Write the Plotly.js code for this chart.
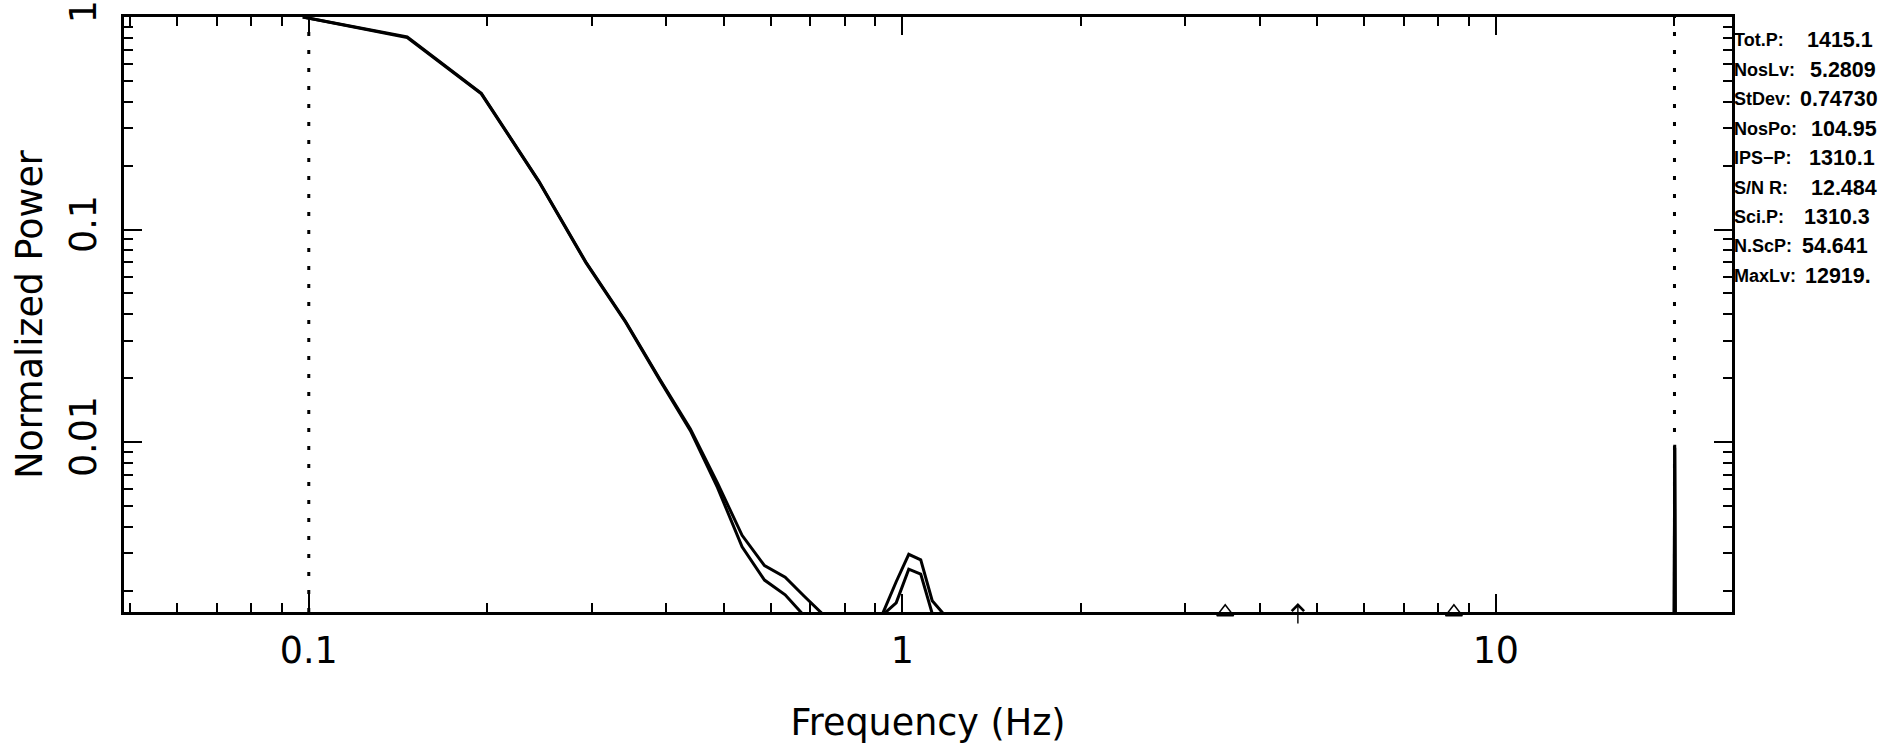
<!DOCTYPE html>
<html>
<head>
<meta charset="utf-8">
<script src="https://cdn.plot.ly/plotly-3.0.1.min.js"></script>
<style>
  html, body { margin: 0; padding: 0; background: #ffffff; }
  #chart { width: 1883px; height: 744px; }
</style>
</head>
<body>
<div id="chart"></div>
<script>
// ---- data ----
const frequencies = [0.0977, 0.1465, 0.1953, 0.2441, 0.2930, 0.3418, 0.3906, 0.4395, 0.4883,
  0.5371, 0.5859, 0.6348, 0.6836, 0.7324, 0.7813, 0.8301, 0.8789, 0.9277, 0.9766, 1.0254,
  1.0742, 1.1230, 1.1719, 1.2207, 19.9707, 20.0195, 20.0684, 24.9512];
const powerUpper = [1.0, 0.806, 0.438, 0.169, 0.0703, 0.0369, 0.0197, 0.0115, 0.0064,
  0.00364, 0.00262, 0.00231, 0.00188, 0.00156, 0.0012, 0.0012, 0.0012, 0.00157, 0.0022, 0.00296,
  0.00279, 0.00179, 0.00156, 0.0012, 0.0012, 0.0097, 0.0012, 0.0012];
const powerLower = [1.0, 0.80, 0.435, 0.168, 0.0698, 0.0366, 0.0195, 0.0113, 0.0061,
  0.00321, 0.00224, 0.00191, 0.00152, 0.0012, 0.0012, 0.0012, 0.0012, 0.00154, 0.00175, 0.00252,
  0.00239, 0.00156, 0.0012, 0.0012, 0.0012, 0.0094, 0.0012, 0.0012];
const triangleFreqs = [3.5, 8.5];
const arrowFreq = 4.64;
const markerLineFreqs = [0.1, 20];
const xTickVals = [0.1, 1, 10];
const xTickText = ['0.1', '1', '10'];
const yTickVals = [0.01, 0.1, 1];
const yTickText = ['0.01', '0.1', '1'];
const statLabels = ['Tot.P:', 'NosLv:', 'StDev:', 'NosPo:', 'IPS\u2212P:', 'S/N R:', 'Sci.P:', 'N.ScP:', 'MaxLv:'];
const statValues = ['1415.1', '5.2809', '0.74730', '104.95', '1310.1', '12.484', '1310.3', '54.641', '12919.'];

// ---- layout ----
const W = 1883, H = 744;
const M = {l: 124, r: 151, t: 17, b: 132};
const plotW = W - M.l - M.r, plotH = H - M.t - M.b;
const xRange = [Math.log10(0.048828), Math.log10(25)];
const yRange = [-2.8, 0];
const yBottom = Math.pow(10, yRange[0]);

function minorLog(lo, hi) {
  const v = [];
  for (let d = Math.floor(lo); d <= Math.ceil(hi); d++) {
    for (let m = 2; m <= 9; m++) {
      const t = m * Math.pow(10, d);
      if (Math.log10(t) >= lo && Math.log10(t) <= hi) v.push(t);
    }
  }
  return v;
}

const fontMain = 'DejaVu Sans, sans-serif';
const fontLabel = 'Liberation Sans Narrow, Liberation Sans, Arial, sans-serif';
const fontValue = 'Liberation Sans, Arial, sans-serif';
const traces = [
  {x: frequencies, y: powerUpper, type: 'scatter', mode: 'lines',
   line: {color: '#000', width: 3}, hoverinfo: 'skip'},
  {x: frequencies, y: powerLower, type: 'scatter', mode: 'lines',
   line: {color: '#000', width: 3}, hoverinfo: 'skip'},
  {x: triangleFreqs, y: triangleFreqs.map(() => yBottom), type: 'scatter', mode: 'markers',
   marker: {symbol: 'triangle-up-open', size: 14.5, color: '#000', line: {width: 1.6, color: '#000'}},
   cliponaxis: false, hoverinfo: 'skip'}
];

const axisCommon = {
  type: 'log', showgrid: false, zeroline: false,
  showline: true, linecolor: '#000', linewidth: 3, mirror: 'allticks',
  ticks: 'inside', ticklen: 18, tickwidth: 2, tickcolor: '#000',
  tickfont: {family: fontMain, size: 33, color: '#000'},
  tickmode: 'array', ticklabeloverflow: 'allow'
};

const annotations = [];
const pxToPaperY = py => (H - M.b - py) / plotH;
const pxToPaperX = px => (px - M.l) / plotW;
const valueX = [1807, 1810, 1800, 1811, 1809, 1811, 1804, 1802, 1805];
statLabels.forEach((lab, i) => {
  const py = 40 + i * 29.5;
  annotations.push({xref: 'paper', yref: 'paper', x: pxToPaperX(1733), y: pxToPaperY(py),
    xanchor: 'left', yanchor: 'middle', showarrow: false, text: lab, borderpad: 0,
    font: {family: fontLabel, size: 21, color: '#000', weight: 'bold'}});
  annotations.push({xref: 'paper', yref: 'paper', x: pxToPaperX(valueX[i] - 1), y: pxToPaperY(py),
    xanchor: 'left', yanchor: 'middle', showarrow: false, text: statValues[i], borderpad: 0,
    font: {family: fontValue, size: 21, color: '#000', weight: 'bold'}});
});
// up arrow marker on the frequency axis
annotations.push({xref: 'x', yref: 'paper', x: Math.log10(arrowFreq), y: pxToPaperY(603),
  ax: 0, ay: 22, axref: 'pixel', ayref: 'pixel', showarrow: true, text: '',
  arrowhead: 4, arrowsize: 1.7, arrowwidth: 1.4, arrowcolor: '#000', standoff: 0});

const shapes = markerLineFreqs.map(f => ({
  type: 'line', xref: 'x', yref: 'paper', x0: f, x1: f, y0: 0, y1: 1,
  line: {color: '#000', width: 3, dash: '4px,14px'}, layer: 'above'
}));

const layout = {
  width: W, height: H, margin: M,
  paper_bgcolor: '#fff', plot_bgcolor: '#fff',
  showlegend: false,
  font: {family: fontMain, color: '#000'},
  xaxis: Object.assign({}, axisCommon, {
    range: xRange, tickvals: xTickVals, ticktext: xTickText,
    ticklabelstandoff: 20,
    minor: {tickmode: 'array', tickvals: minorLog(xRange[0], xRange[1]), ticks: 'inside', ticklen: 9, tickwidth: 2, tickcolor: '#000'},
    title: {text: 'Frequency (Hz)', font: {family: fontMain, size: 33, color: '#000'}, standoff: 28}
  }),
  yaxis: Object.assign({}, axisCommon, {
    range: yRange, tickvals: yTickVals, ticktext: yTickText, tickangle: -90,
    ticklabelstandoff: 20,
    minor: {tickmode: 'array', tickvals: minorLog(yRange[0], yRange[1]), ticks: 'inside', ticklen: 9, tickwidth: 2, tickcolor: '#000'},
    title: {text: 'Normalized Power', font: {family: fontMain, size: 33, color: '#000'}, standoff: 16}
  }),
  shapes: shapes,
  annotations: annotations
};

const gd = document.getElementById('chart');
const centerOf = el => { const r = el.getBoundingClientRect(); return {x: (r.left + r.right) / 2, y: (r.top + r.bottom) / 2}; };
const annText = i => gd.querySelector('.annotation[data-index="' + i + '"] .annotation-text');

Plotly.newPlot(gd, traces, layout, {staticPlot: true, displayModeBar: false})
  .then(() => {
    // fit text sizes to the measured widths of the reference text
    const upd = {};
    const titleSize = 33 * 275 / gd.querySelector('.xtitle').getBBox().width;
    upd['xaxis.title.font.size'] = titleSize;
    upd['yaxis.title.font.size'] = titleSize;
    upd['xaxis.tickfont.size'] = titleSize;
    upd['yaxis.tickfont.size'] = titleSize;
    const valueSize = 21 * 66 / annText(7).getBBox().width;   // "104.95"
    let labelSize = 21 * 63 / annText(6).getBBox().width;     // "NosPo:"
    labelSize = Math.min(labelSize, valueSize);
    statLabels.forEach((_, i) => {
      upd['annotations[' + (2 * i) + '].font.size'] = labelSize;
      upd['annotations[' + (2 * i + 1) + '].font.size'] = valueSize;
    });
    return Plotly.relayout(gd, upd);
  })
  .then(() => {
    const cx = centerOf(gd.querySelector('.xtick text'));
    const cy = centerOf(gd.querySelector('.ytick text'));
    return Plotly.relayout(gd, {
      'xaxis.ticklabelstandoff': Math.max(0, Math.round(20 + (650 - cx.y))),
      'yaxis.ticklabelstandoff': Math.max(0, Math.round(20 + (cy.x - 84)))
    });
  })
  .then(() => {
    const tx = centerOf(gd.querySelector('.xtitle'));
    const ty = centerOf(gd.querySelector('.ytitle'));
    return Plotly.relayout(gd, {
      'xaxis.title.standoff': Math.max(0, Math.round(28 + (722 - tx.y))),
      'yaxis.title.standoff': Math.max(0, Math.round(16 + (ty.x - 30)))
    });
  });
</script>
</body>
</html>
